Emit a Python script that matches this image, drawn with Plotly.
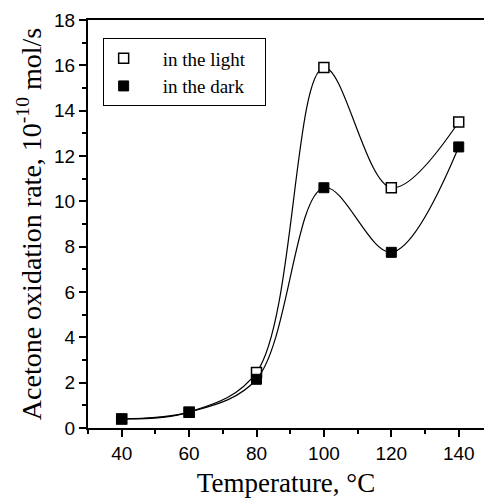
import plotly.graph_objects as go

temperature = [40, 60, 80, 100, 120, 140]
rate_light = [0.4, 0.7, 2.45, 15.9, 10.6, 13.5]
rate_dark = [0.4, 0.7, 2.15, 10.6, 7.75, 12.4]
x_ticks = [40, 60, 80, 100, 120, 140]
y_ticks = [0, 2, 4, 6, 8, 10, 12, 14, 16, 18]
series_names = ["in the light", "in the dark"]

NB = "\u00a0"
light_marker = dict(symbol="square", size=10, color="white", line=dict(color="black", width=1.5))
dark_marker = dict(symbol="square", size=10, color="black", line=dict(color="black", width=1))
curve = dict(color="black", width=1.2, shape="spline", smoothing=1.0)

fig = go.Figure()
fig.add_trace(go.Scatter(x=temperature, y=rate_light, mode="lines+markers", line=curve,
                         marker=light_marker, showlegend=False))
fig.add_trace(go.Scatter(x=temperature, y=rate_dark, mode="lines+markers", line=curve,
                         marker=dark_marker, showlegend=False))
# legend entries (marker only)
fig.add_trace(go.Scatter(x=[None], y=[None], mode="markers", marker=light_marker,
                         name=NB * 4 + series_names[0] + NB * 3))
fig.add_trace(go.Scatter(x=[None], y=[None], mode="markers", marker=dark_marker,
                         name=NB * 4 + series_names[1] + NB * 3))

fig.update_layout(
    width=484, height=498,
    margin=dict(l=88, r=0, t=20, b=70),
    paper_bgcolor="white", plot_bgcolor="white",
    showlegend=True,
    legend=dict(
        x=0.037, y=0.955, xanchor="left", yanchor="top",
        bordercolor="black", borderwidth=1, bgcolor="white",
        font=dict(family="Liberation Serif", size=19, color="black"),
        itemwidth=30, tracegroupgap=0,
    ),
    xaxis=dict(
        range=[30, 147.5], tickvals=x_ticks,
        ticks="outside", ticklen=7, tickwidth=1.5, tickcolor="black",
        minor=dict(tickvals=[30, 50, 70, 90, 110, 130], ticks="outside", ticklen=4, tickwidth=1.5, tickcolor="black"),
        showline=True, linecolor="black", linewidth=2, mirror=True,
        showgrid=False, zeroline=False,
        tickfont=dict(family="Liberation Sans", size=19, color="black"),
        title=dict(text="Temperature, °C", font=dict(family="Liberation Serif", size=27, color="black"), standoff=10),
    ),
    yaxis=dict(
        range=[0, 18], tickvals=y_ticks,
        ticks="outside", ticklen=7, tickwidth=1.5, tickcolor="black",
        minor=dict(dtick=1, ticks="outside", ticklen=4, tickwidth=1.5, tickcolor="black"),
        showline=True, linecolor="black", linewidth=2, mirror=False,
        showgrid=False, zeroline=False,
        tickfont=dict(family="Liberation Sans", size=19, color="black"),
        title=dict(text="Acetone oxidation rate, 10<sup>-10</sup> mol/s", font=dict(family="Liberation Serif", size=28, color="black"), standoff=4),
    ),
)

fig.write_html("out.html")
